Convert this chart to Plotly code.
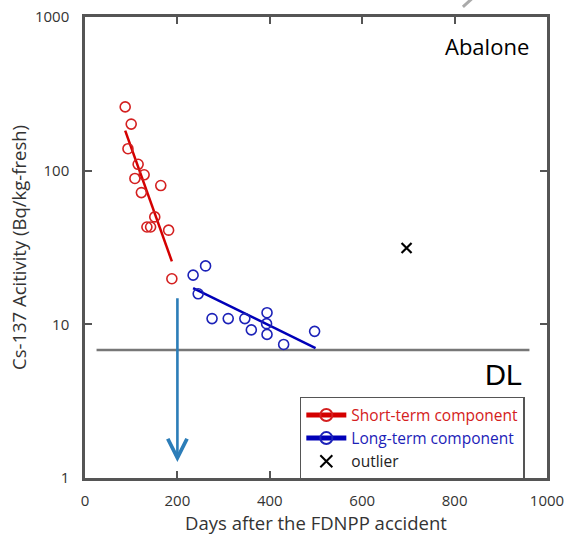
import plotly.graph_objects as go
import math

# ---- data ----
short_days = [87, 100, 93, 115, 128, 108, 164, 122, 151, 134, 142, 181, 188]
short_vals = [260, 201, 139, 110, 94, 89, 80, 72, 50, 43, 43, 41, 19.8]
short_fit_days = [87, 188]
short_fit_vals = [182, 25.7]

long_days = [234, 261, 245, 275, 310, 346, 360, 394, 393, 394, 430, 497]
long_vals = [20.9, 24.0, 15.8, 10.9, 10.9, 10.9, 9.2, 11.9, 10.1, 8.6, 7.4, 9.0]
long_fit_days = [234, 499]
long_fit_vals = [17.2, 7.0]

outlier_days = [696]
outlier_vals = [31.4]

dl_days = [25, 962]
dl_vals = [6.8, 6.8]

arrow_day = 200
arrow_top = 15.1
arrow_bottom = 1.27

x_ticks = [0, 200, 400, 600, 800, 1000]
y_ticks = [1, 10, 100, 1000]

RED = "#d42020"
BLUE = "#1c22b8"
FONT = "Open Sans, Noto Sans, sans-serif"

fig = go.Figure()

fig.add_trace(go.Scatter(x=dl_days, y=dl_vals, mode="lines",
                         line=dict(color="#777777", width=2.5), showlegend=False, hoverinfo="skip"))

fig.add_trace(go.Scatter(x=short_fit_days, y=short_fit_vals, mode="lines",
                         line=dict(color="#d40000", width=2.5), showlegend=False))
fig.add_trace(go.Scatter(x=short_days, y=short_vals, mode="markers",
                         marker=dict(symbol="circle-open", size=10, color=RED, line=dict(width=1.6)),
                         showlegend=False))
fig.add_trace(go.Scatter(x=long_fit_days, y=long_fit_vals, mode="lines",
                         line=dict(color="#0000b8", width=2.5), showlegend=False))
fig.add_trace(go.Scatter(x=long_days, y=long_vals, mode="markers",
                         marker=dict(symbol="circle-open", size=10, color=BLUE, line=dict(width=1.6)),
                         showlegend=False))
fig.add_trace(go.Scatter(x=outlier_days, y=outlier_vals, mode="markers",
                         marker=dict(symbol="x-thin-open", size=10, color="black", line=dict(width=2.2)),
                         showlegend=False))

# legend entries
fig.add_trace(go.Scatter(x=[None], y=[None], mode="lines+markers",
                         name=f"<span style='color:{RED}'>Short-term component</span>",
                         line=dict(color="#d40000", width=2),
                         marker=dict(symbol="circle-open", size=7, color=RED, line=dict(width=1.5))))
fig.add_trace(go.Scatter(x=[None], y=[None], mode="lines+markers",
                         name=f"<span style='color:{BLUE}'>Long-term component</span>",
                         line=dict(color="#0000b8", width=2),
                         marker=dict(symbol="circle-open", size=7, color=BLUE, line=dict(width=1.5))))
fig.add_trace(go.Scatter(x=[None], y=[None], mode="markers",
                         name="<span style='color:#222'>outlier</span>",
                         marker=dict(symbol="x-thin-open", size=9, color="black", line=dict(width=2))))

fig.add_annotation(x=arrow_day, y=math.log10(arrow_bottom), ax=arrow_day, ay=math.log10(arrow_top),
                   xref="x", yref="y", axref="x", ayref="y", text="", showarrow=True,
                   arrowhead=5, arrowsize=1.45, arrowwidth=2.6, arrowcolor="#2c7db8")

fig.add_annotation(x=0.965, y=0.935, xref="paper", yref="paper", text="Abalone",
                   showarrow=False, xanchor="right", yanchor="middle", yshift=1,
                   font=dict(family=FONT, size=22, color="black"))
fig.add_annotation(x=0.905, y=0.224, xref="paper", yref="paper", text="DL",
                   showarrow=False, xanchor="center", yanchor="middle",
                   font=dict(family="Liberation Sans, Arial, sans-serif", size=29, color="black"))

fig.add_shape(type="line", xref="paper", yref="paper", x0=0.818, y0=1.022, x1=0.84, y1=1.042,
              line=dict(color="#aaaaaa", width=3))

axis_common = dict(showline=True, linewidth=2.5, linecolor="#555555", mirror="ticks",
                   ticks="inside", ticklen=7, tickwidth=2, tickcolor="#555555",
                   showgrid=False, zeroline=False, automargin=False,
                   tickfont=dict(family=FONT, size=15, color="#333333"))

fig.update_layout(
    width=572, height=536,
    margin=dict(l=85, r=25, t=17, b=58),
    paper_bgcolor="white", plot_bgcolor="white",
    font=dict(family=FONT, color="#333333"),
    xaxis=dict(range=[0, 1000], tickvals=x_ticks, ticktext=[str(v) for v in x_ticks],
               title=dict(text="Days after the FDNPP accident", font=dict(family=FONT, size=18.5, color="#333"), standoff=8),
               ticklabelstandoff=7, **axis_common),
    yaxis=dict(type="log", range=[0, 3], tickvals=y_ticks, ticktext=[str(v) for v in y_ticks],
               title=dict(text="Cs-137 Acitivity (Bq/kg-fresh)", font=dict(family=FONT, size=18.5, color="#333"), standoff=4),
               ticklabelstandoff=10, **axis_common),
    showlegend=True,
    legend=dict(x=0.465, y=0.176, xanchor="left", yanchor="top",
                bordercolor="#555555", borderwidth=1.5, bgcolor="white",
                font=dict(family=FONT, size=15.5), itemwidth=40,
                tracegroupgap=0, itemsizing="constant"),
)

fig.write_html("out.html")
